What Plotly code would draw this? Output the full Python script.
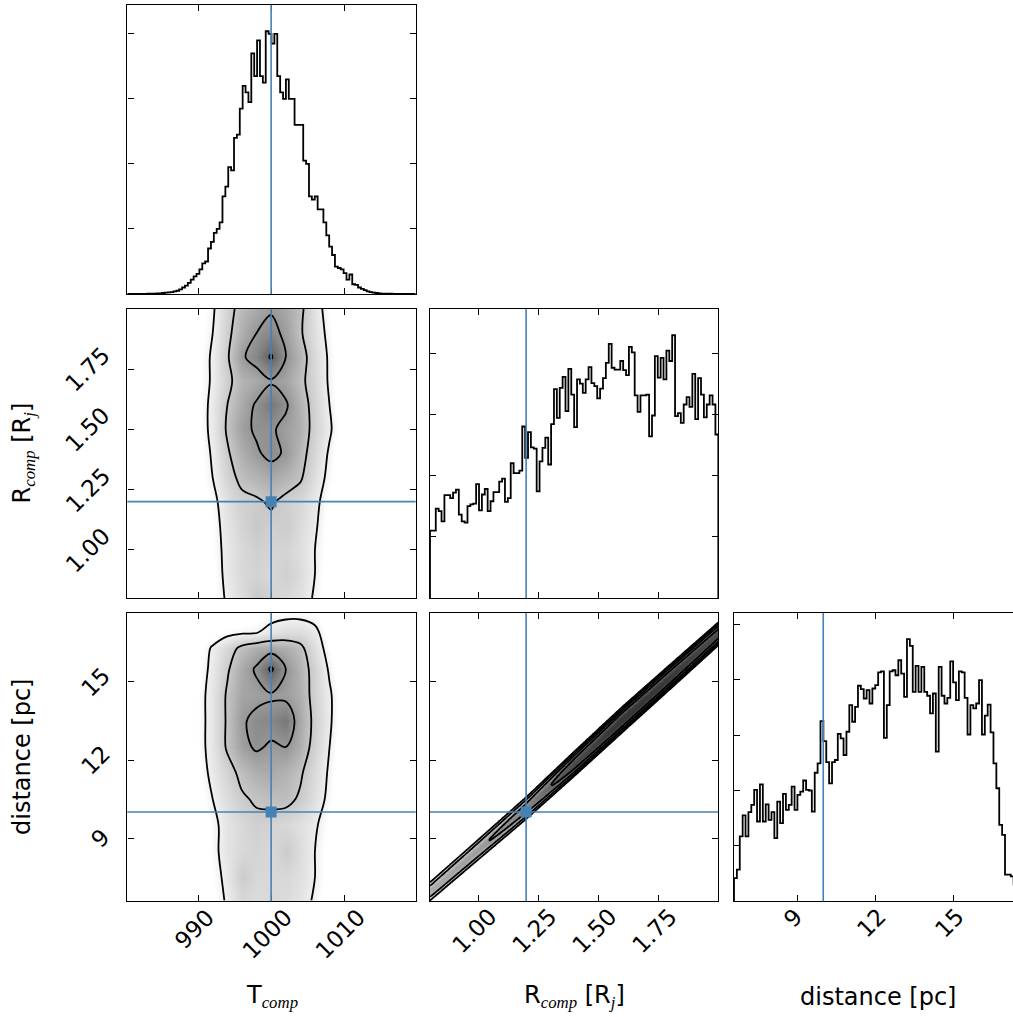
import numpy as np
import plotly.graph_objects as go

W, H = 1013, 1017

# ---------------- data ----------------
truths = [1000.0, 1.2, 10.0]          # T_comp, R_comp, distance
T_range = [980.3, 1019.8]
R_range = [0.80, 2.00]
d_range = [6.57, 17.65]

# 1D marginal histograms (100 bins each over the ranges above, arbitrary units)
T_counts = [0, 0, 0, 0, 0, 0.002, 0.003, 0.004, 0.005, 0.006,
            0.01, 0.01, 0.015, 0.02, 0.026, 0.03, 0.04, 0.05, 0.07, 0.10,
            0.13, 0.17, 0.22, 0.27, 0.31, 0.38, 0.47, 0.50, 0.70, 0.80,
            0.94, 1.00, 1.10, 1.50, 1.65, 1.95, 1.90, 2.40, 2.45, 2.85,
            3.20, 3.10, 2.95, 3.70, 3.35, 3.90, 3.35, 3.25, 4.04, 4.00,
            3.85, 4.00, 3.35, 3.10, 3.00, 3.30, 3.00, 3.00, 2.60, 2.60,
            2.60, 2.05, 2.00, 1.50, 1.45, 1.50, 1.30, 1.30, 1.10, 0.90,
            0.73, 0.60, 0.42, 0.40, 0.38, 0.32, 0.22, 0.30, 0.15, 0.14,
            0.10, 0.08, 0.06, 0.04, 0.03, 0.02, 0.015, 0.01, 0.007, 0.005,
            0.005, 0.004, 0.003, 0.002, 0.002, 0.001, 0.001, 0, 0, 0]

R_counts = [1.10, 1.10, 1.46, 1.42, 1.25, 1.68, 1.68, 1.63, 1.72, 1.77,
            1.36, 1.25, 1.23, 1.50, 1.53, 1.54, 1.86, 1.43, 1.69, 1.78,
            1.42, 1.58, 1.73, 1.73, 1.90, 1.95, 1.57, 1.63, 2.20, 2.04,
            2.04, 2.08, 2.80, 2.29, 2.71, 2.46, 2.44, 1.74, 2.23, 2.45,
            2.62, 2.18, 2.84, 3.41, 2.94, 3.43, 3.61, 3.05, 3.74, 3.32,
            2.79, 3.57, 3.50, 3.35, 3.57, 3.77, 3.51, 3.46, 3.26, 3.42,
            3.59, 3.84, 4.15, 3.76, 3.73, 3.73, 3.87, 3.72, 3.64, 4.10,
            4.01, 3.31, 3.04, 3.31, 3.31, 3.32, 2.64, 2.98, 3.95, 3.60,
            3.92, 3.57, 4.04, 3.87, 4.29, 2.97, 3.02, 2.86, 3.16, 3.28,
            3.12, 3.66, 2.92, 3.59, 3.32, 2.95, 3.16, 3.31, 3.16, 2.67]

d_counts = [0.42, 0.57, 1.17, 1.55, 1.17, 1.61, 1.74, 2.01, 1.44, 2.11,
            1.44, 1.75, 1.47, 1.61, 1.14, 1.80, 1.41, 1.94, 1.65, 1.74,
            2.07, 1.65, 1.92, 1.98, 2.18, 2.01, 2.00, 1.62, 2.32, 2.49,
            3.25, 2.89, 2.51, 2.13, 2.51, 2.55, 3.02, 2.94, 2.64, 3.06,
            3.54, 3.24, 3.51, 3.89, 3.83, 3.66, 3.81, 3.57, 3.84, 3.90,
            4.13, 4.15, 2.95, 3.54, 4.15, 4.17, 4.08, 4.35, 4.11, 3.69,
            4.73, 4.61, 3.78, 4.25, 3.78, 4.23, 3.78, 3.71, 3.39, 3.75,
            2.70, 4.23, 3.71, 3.57, 3.67, 4.33, 3.95, 3.63, 4.15, 4.13,
            3.67, 3.01, 3.54, 3.48, 3.57, 3.99, 3.01, 3.35, 3.55, 3.05,
            2.49, 2.04, 1.38, 1.20, 0.48, 0.48, 0.45, 0.30, 0.15, 0.05]

# 2D density level maps (1 = outer contour ... 4 = inner)
grid_T = [988, 990, 992, 994, 996, 998, 1000, 1002, 1004, 1006, 1008, 1010, 1012]
grid_R = [0.8, 0.9, 1.0, 1.1, 1.2, 1.3, 1.4, 1.5, 1.6, 1.7, 1.8, 1.9, 2.0]
z_RT = [
    [0.1, 0.3, 0.6, 1.1, 1.5, 2.0, 1.7, 1.6, 1.4, 0.9, 0.4, 0.1, 0.05],
    [0.1, 0.3, 0.6, 1.2, 1.6, 1.7, 1.6, 1.8, 1.5, 1.0, 0.4, 0.1, 0.05],
    [0.1, 0.3, 0.7, 1.2, 1.6, 1.8, 1.7, 1.7, 1.4, 1.0, 0.5, 0.1, 0.05],
    [0.1, 0.3, 0.7, 1.3, 1.7, 2.0, 1.8, 1.9, 1.5, 1.1, 0.5, 0.2, 0.05],
    [0.1, 0.4, 0.8, 1.4, 1.8, 1.9, 2.1, 1.8, 1.6, 1.2, 0.6, 0.2, 0.05],
    [0.2, 0.5, 1.0, 1.7, 2.2, 2.4, 2.6, 2.4, 2.1, 1.4, 0.8, 0.3, 0.05],
    [0.2, 0.5, 1.1, 1.9, 2.5, 2.9, 3.2, 2.9, 2.3, 1.6, 0.9, 0.3, 0.05],
    [0.2, 0.6, 1.2, 2.1, 2.8, 3.1, 3.1, 2.8, 2.5, 1.7, 1.1, 0.4, 0.05],
    [0.2, 0.6, 1.2, 2.0, 2.6, 3.1, 3.6, 3.1, 2.4, 1.7, 1.0, 0.3, 0.05],
    [0.2, 0.6, 1.1, 1.8, 2.4, 2.6, 2.9, 2.7, 2.2, 1.6, 0.9, 0.3, 0.05],
    [0.2, 0.6, 1.1, 1.9, 2.9, 3.3, 4.1, 3.0, 2.4, 1.5, 0.9, 0.3, 0.05],
    [0.2, 0.5, 1.0, 1.8, 2.5, 3.0, 3.3, 2.8, 2.1, 1.4, 0.8, 0.3, 0.05],
    [0.2, 0.5, 0.9, 1.7, 2.3, 2.6, 2.9, 2.6, 2.2, 1.3, 0.7, 0.2, 0.05],
]
grid_d = [6.6, 7.5, 8.5, 9.5, 10.5, 11.5, 12.5, 13.5, 14.5, 15.5, 16.3, 16.9, 17.6]
z_dT = [
    [0.1, 0.3, 0.6, 1.1, 1.6, 1.5, 1.6, 1.5, 1.3, 0.9, 0.4, 0.1, 0.05],
    [0.1, 0.3, 0.7, 1.2, 1.9, 1.6, 1.6, 1.6, 1.4, 1.0, 0.5, 0.1, 0.05],
    [0.1, 0.4, 0.8, 1.3, 1.6, 1.7, 1.6, 1.9, 1.5, 1.0, 0.5, 0.2, 0.05],
    [0.1, 0.4, 0.8, 1.3, 1.6, 1.8, 1.7, 1.6, 1.4, 1.1, 0.6, 0.2, 0.05],
    [0.2, 0.5, 1.0, 1.5, 1.9, 2.1, 2.2, 2.2, 1.9, 1.4, 0.8, 0.2, 0.05],
    [0.2, 0.6, 1.2, 1.7, 2.2, 2.5, 2.6, 2.4, 2.1, 1.5, 0.9, 0.3, 0.05],
    [0.3, 0.7, 1.3, 2.1, 2.8, 3.1, 2.9, 3.0, 2.5, 1.7, 1.0, 0.3, 0.05],
    [0.3, 0.7, 1.3, 2.1, 2.9, 3.2, 3.3, 3.6, 2.6, 1.8, 1.1, 0.4, 0.05],
    [0.3, 0.7, 1.3, 2.1, 2.7, 2.8, 2.9, 2.8, 2.5, 1.7, 1.1, 0.4, 0.05],
    [0.2, 0.6, 1.2, 1.9, 2.6, 3.1, 4.15, 3.0, 2.4, 1.7, 0.9, 0.3, 0.05],
    [0.2, 0.5, 1.1, 1.6, 2.2, 2.5, 2.6, 2.5, 2.2, 1.4, 0.7, 0.2, 0.05],
    [0.1, 0.3, 0.5, 0.8, 0.9, 0.95, 1.3, 1.5, 1.5, 1.2, 0.5, 0.2, 0.05],
    [0.0, 0.1, 0.2, 0.3, 0.4, 0.5, 0.7, 0.8, 0.8, 0.7, 0.3, 0.1, 0.0],
]
# distance vs R: narrow band, read along its length
band_R = [0.80, 1.00, 1.20, 1.40, 1.60, 1.80, 2.00]
band_d = [6.95, 8.55, 10.15, 11.85, 13.55, 15.20, 16.85]
band_halfwidth = [0.35, 0.38, 0.42, 0.47, 0.49, 0.47, 0.44]
band_peak = [2.6, 2.9, 3.4, 4.6, 5.2, 5.0, 4.6]

T_ticks, T_ticktext = [990, 1000, 1010], ["990", "1000", "1010"]
R_ticks, R_ticktext = [1.00, 1.25, 1.50, 1.75], ["1.00", "1.25", "1.50", "1.75"]
d_ticks, d_ticktext = [9, 12, 15], ["9", "12", "15"]
hist_ticks = [1, 2, 3, 4, 5]

# ---------------- layout geometry (pixels) ----------------
def xp(px):
    return px / W

def yp(py):
    return 1 - py / H

col_dom = [[xp(127.3), xp(415.7)], [xp(430.0), xp(718.3)], [xp(734.0), 1.0]]
row_dom = [[yp(294.0), yp(5.0)], [yp(598.0), yp(309.0)], [yp(901.3), yp(613.0)]]
d_xrange = [d_range[0], d_range[0] + (d_range[1] - d_range[0]) * (1013 - 734.0) / (718.3 - 430.0)]

BLUE = "#4682b4"
FONT = "DejaVu Sans"
TICKFS = 23
LABFS = 24

fig = go.Figure()

gray_cs = [[0.0, "rgb(255,255,255)"], [0.14, "rgb(255,255,255)"], [0.2, "rgb(240,240,240)"],
           [0.4, "rgb(200,200,200)"], [0.6, "rgb(150,150,150)"], [0.8, "rgb(100,100,100)"],
           [1.0, "rgb(55,55,55)"]]


def step_xy(counts, lo, hi):
    n = len(counts)
    edges = np.linspace(lo, hi, n + 1)
    xs = [edges[0]] + list(edges[:-1]) + [edges[-1], edges[-1]]
    ys = [0] + list(counts) + [counts[-1], 0]
    return xs, ys


def add_hist(counts, rng, ax):
    xs, ys = step_xy(counts, rng[0], rng[1])
    fig.add_trace(go.Scatter(x=xs, y=ys, mode="lines", line=dict(color="black", width=1.8, shape="hv"),
                             xaxis="x" + ax, yaxis="y" + ax, showlegend=False, hoverinfo="skip"))


def add_density(x, y, z, ax):
    fig.add_trace(go.Heatmap(x=x, y=y, z=z, zmin=0, zmax=5.0, colorscale=gray_cs, zsmooth="best",
                             showscale=False, xaxis="x" + ax, yaxis="y" + ax, hoverinfo="skip"))
    fig.add_trace(go.Contour(x=x, y=y, z=z, autocontour=False,
                             contours=dict(start=1, end=4, size=1, coloring="none"),
                             line=dict(color="black", width=1.8, smoothing=1.0),
                             showscale=False, xaxis="x" + ax, yaxis="y" + ax, hoverinfo="skip"))


# panel 1: T histogram
add_hist(T_counts, T_range, "")
# panel 2: R vs T
add_density(grid_T, grid_R, z_RT, "2")
# panel 3: R histogram
add_hist(R_counts, R_range, "3")
# panel 4: d vs T
add_density(grid_T, grid_d, z_dT, "4")
# panel 5: d vs R (band)
Rf = np.linspace(R_range[0], R_range[1], 121)
df = np.linspace(d_range[0], d_range[1], 223)
c = np.interp(Rf, band_R, band_d)
hw = np.interp(Rf, band_R, band_halfwidth)
pk = np.interp(Rf, band_R, band_peak)
w = hw / np.sqrt(1 - 1 / pk)
zb = pk[None, :] * np.clip(1 - ((df[:, None] - c[None, :]) / w[None, :]) ** 2, 0, None)
add_density(Rf, df, zb, "5")
# panel 6: d histogram
add_hist(d_counts, d_range, "6")

# truth markers
for ax, (xv, yv) in {"2": (truths[0], truths[1]), "4": (truths[0], truths[2]), "5": (truths[1], truths[2])}.items():
    fig.add_trace(go.Scatter(x=[xv], y=[yv], mode="markers",
                             marker=dict(symbol="square", size=11, color=BLUE),
                             xaxis="x" + ax, yaxis="y" + ax, showlegend=False, hoverinfo="skip"))

# truth lines
shapes = []
def vline(xv, ax):
    shapes.append(dict(type="line", x0=xv, x1=xv, y0=0, y1=1, xref="x" + ax,
                       yref=("y" + ax if ax else "y") + " domain", line=dict(color=BLUE, width=1.6)))

def hline(yv, ax):
    shapes.append(dict(type="line", y0=yv, y1=yv, x0=0, x1=1, yref="y" + ax,
                       xref="x" + ax + " domain", line=dict(color=BLUE, width=1.6)))

vline(truths[0], ""); vline(truths[0], "2"); vline(truths[0], "4")
vline(truths[1], "3"); vline(truths[1], "5")
vline(truths[2], "6")
hline(truths[1], "2")
hline(truths[2], "4"); hline(truths[2], "5")

# axes
base = dict(showline=True, linecolor="black", linewidth=1.4, mirror="ticks", ticks="inside",
            ticklen=6, tickwidth=1.2, tickcolor="black", showgrid=False, zeroline=False,
            showticklabels=False)

def set_axes(ax, col, row, xr, xt, yr, yt, ymirror="ticks"):
    xname = "xaxis" + ax
    yname = "yaxis" + ax
    fig.layout[xname] = dict(base, domain=col_dom[col], range=xr, tickvals=xt,
                             anchor="y" + ax if ax else "y")
    fig.layout[yname] = dict(base, domain=row_dom[row], range=yr, tickvals=yt,
                             anchor="x" + ax if ax else "x", mirror=ymirror)

set_axes("", 0, 0, T_range, T_ticks, [0, 1.1 * max(T_counts)], hist_ticks)
set_axes("2", 0, 1, T_range, T_ticks, R_range, R_ticks)
set_axes("3", 1, 1, R_range, R_ticks, [0, 1.1 * max(R_counts)], hist_ticks)
set_axes("4", 0, 2, T_range, T_ticks, d_range, d_ticks)
set_axes("5", 1, 2, R_range, R_ticks, d_range, d_ticks)
set_axes("6", 2, 2, d_xrange, d_ticks, [0, 1.1 * max(d_counts)], hist_ticks, ymirror=False)

# tick labels as rotated annotations (centred like matplotlib)
ann = []
tfont = dict(family=FONT, size=TICKFS, color="black")
for ax, vals, txt in [("4", T_ticks, T_ticktext), ("5", R_ticks, R_ticktext), ("6", d_ticks, d_ticktext)]:
    for v, t in zip(vals, txt):
        ann.append(dict(x=v, y=yp(911), xref="x" + ax, yref="paper", text=t, showarrow=False,
                        textangle=-45, xanchor="center", yanchor="top", font=tfont,
                        xshift=-4, yshift=10))
for ax, vals, txt in [("2", R_ticks, R_ticktext), ("4", d_ticks, d_ticktext)]:
    for v, t in zip(vals, txt):
        ann.append(dict(x=xp(115), y=v, xref="paper", yref="y" + ax, text=t, showarrow=False,
                        textangle=-45, xanchor="right", yanchor="middle", font=tfont, xshift=3))

lfont = dict(family=FONT, size=LABFS, color="black")
SUB = "<sub><i><span style=\"font-family:'Liberation Serif'\">%s</span></i></sub>"
T_label = "T" + SUB % "comp"
R_label = "R" + SUB % "comp" + " [R" + SUB % "j" + "]"
d_label = "distance [pc]"
ctr = dict(xref="paper", yref="paper", showarrow=False, font=lfont, xanchor="center", yanchor="middle")
ann += [
    dict(ctr, x=xp(271.5), y=yp(996), text=T_label),
    dict(ctr, x=xp(574.5), y=yp(996), text=R_label),
    dict(ctr, x=xp(877.5), y=yp(997), text=d_label),
    dict(ctr, x=xp(23), y=yp(453.5), text=R_label, textangle=-90),
    dict(ctr, x=xp(22), y=yp(757), text=d_label, textangle=-90),
]

fig.update_layout(width=W, height=H, autosize=False, margin=dict(l=0, r=0, t=0, b=0),
                  paper_bgcolor="white", plot_bgcolor="white", showlegend=False,
                  font=dict(family=FONT, color="black"), shapes=shapes, annotations=ann)

fig.write_html("out.html")
